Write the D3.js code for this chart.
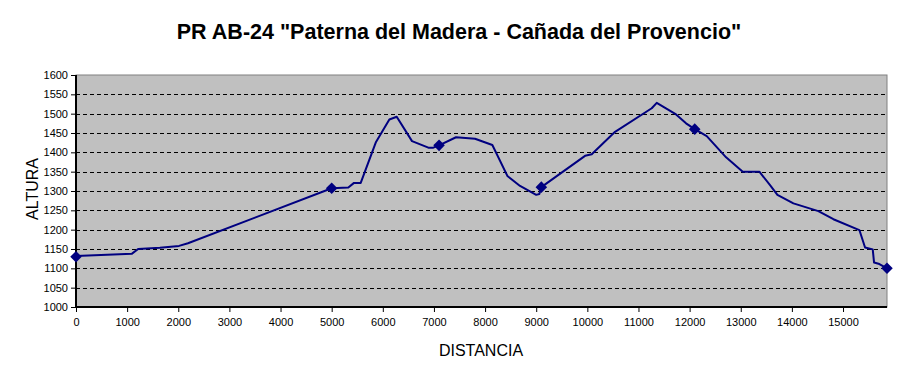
<!DOCTYPE html>
<html>
<head>
<meta charset="utf-8">
<script src="https://cdn.jsdelivr.net/npm/d3@7"></script>
<style>
  body { margin: 0; background: #fff; }
  text { font-family: "Liberation Sans", Arial, sans-serif; fill: #000; }
</style>
</head>
<body>
<div id="chart"></div>
<script>
// profile of the route (distance in m, altitude in m)
const distancia = [0, 1095, 1215, 1640, 2015, 2190, 5000, 5326, 5437, 5568, 5867, 6128, 6272, 6571, 6891, 6989,
  7100, 7432, 7803, 8142, 8436, 8684, 9000, 9061, 9100, 9955, 10086, 10542, 11259, 11357, 11735, 11930,
  12100, 12335, 12713, 13039, 13364, 13573, 13717, 14030, 14518, 14812, 15320, 15431, 15581, 15607, 15711, 15860];
const altura = [1132, 1138, 1150, 1153, 1158, 1165, 1307, 1309, 1321, 1321, 1427, 1485, 1492, 1429, 1412, 1412,
  1418, 1439, 1435, 1419, 1339, 1313, 1290, 1292, 1310, 1391, 1395, 1453, 1514, 1528, 1498, 1475,
  1460, 1442, 1387, 1350, 1350, 1315, 1290, 1268, 1248, 1227, 1199, 1154, 1149, 1115, 1111, 1100];

// waypoints shown with markers
const puntosDist = [0, 5000, 7100, 9100, 12100, 15860];
const puntosAlt = [1130, 1307, 1418, 1310, 1460, 1100];

const xTicks = d3.range(0, 15001, 1000);
const yTicks = d3.range(1000, 1601, 50);

const config = {
  width: 907,
  height: 375,
  margin: { top: 75, right: 20, bottom: 68, left: 76 }
};

const innerW = config.width - config.margin.left - config.margin.right;
const innerH = config.height - config.margin.top - config.margin.bottom;

const svg = d3.select("#chart").append("svg")
  .attr("width", config.width)
  .attr("height", config.height);

const chart = svg.append("g")
  .attr("transform", `translate(${config.margin.left},${config.margin.top})`);

const xScale = d3.scaleLinear().domain([0, 15860]).range([0, innerW]);
const yScale = d3.scaleLinear().domain([1000, 1600]).range([innerH, 0]);

// plot background
chart.append("rect")
  .attr("width", innerW)
  .attr("height", innerH)
  .attr("fill", "#c0c0c0")
  .attr("stroke", "#808080")
  .attr("stroke-width", 1);

// dashed gridlines
chart.append("g")
  .selectAll("line")
  .data(yTicks.filter(d => d > 1000 && d < 1600))
  .join("line")
  .attr("x1", 0)
  .attr("x2", innerW)
  .attr("y1", d => Math.round(yScale(d)) + 0.5)
  .attr("y2", d => Math.round(yScale(d)) + 0.5)
  .attr("stroke", "#000")
  .attr("stroke-dasharray", "4,3");

// axes
const xAxis = d3.axisBottom(xScale).tickValues(xTicks).tickSize(5).tickPadding(6).tickFormat(d3.format("d"));
const yAxis = d3.axisLeft(yScale).tickValues(yTicks).tickSize(5).tickPadding(3).tickFormat(d3.format("d"));

const xAxisG = chart.append("g")
  .attr("transform", `translate(0,${innerH})`)
  .call(xAxis);
const yAxisG = chart.append("g").call(yAxis);

[xAxisG, yAxisG].forEach(g => {
  g.select(".domain").attr("stroke", "#000").attr("stroke-width", 2);
  g.selectAll(".tick line").attr("stroke", "#000");
  g.selectAll(".tick text")
    .attr("font-size", 11)
    .attr("font-family", "'Liberation Sans', Arial, sans-serif");
});
yAxisG.select(".domain").attr("d", `M0,0V${innerH}`);
xAxisG.select(".domain").attr("d", `M0,0H${innerW}`);

// profile line
const line = d3.line()
  .x((d, i) => xScale(distancia[i]))
  .y(d => yScale(d));

chart.append("path")
  .datum(altura)
  .attr("d", line)
  .attr("fill", "none")
  .attr("stroke", "#000080")
  .attr("stroke-width", 2)
  .attr("stroke-linejoin", "round");

// waypoint diamonds
const diamond = d3.symbol().type(d3.symbolDiamond2).size(85);
chart.append("g")
  .selectAll("path")
  .data(puntosAlt)
  .join("path")
  .attr("d", diamond)
  .attr("transform", (d, i) => `translate(${xScale(puntosDist[i])},${yScale(d)})`)
  .attr("fill", "#000080");

// title
svg.append("text")
  .attr("x", 459)
  .attr("y", 39)
  .attr("text-anchor", "middle")
  .attr("font-size", 21.5)
  .attr("font-weight", "bold")
  .text('PR AB-24 "Paterna del Madera - Cañada del Provencio"');

// axis titles
svg.append("text")
  .attr("x", 481)
  .attr("y", 356)
  .attr("text-anchor", "middle")
  .attr("font-size", 16)
  .text("DISTANCIA");

svg.append("text")
  .attr("transform", "translate(38,189) rotate(-90)")
  .attr("text-anchor", "middle")
  .attr("font-size", 16)
  .text("ALTURA");
</script>
</body>
</html>
